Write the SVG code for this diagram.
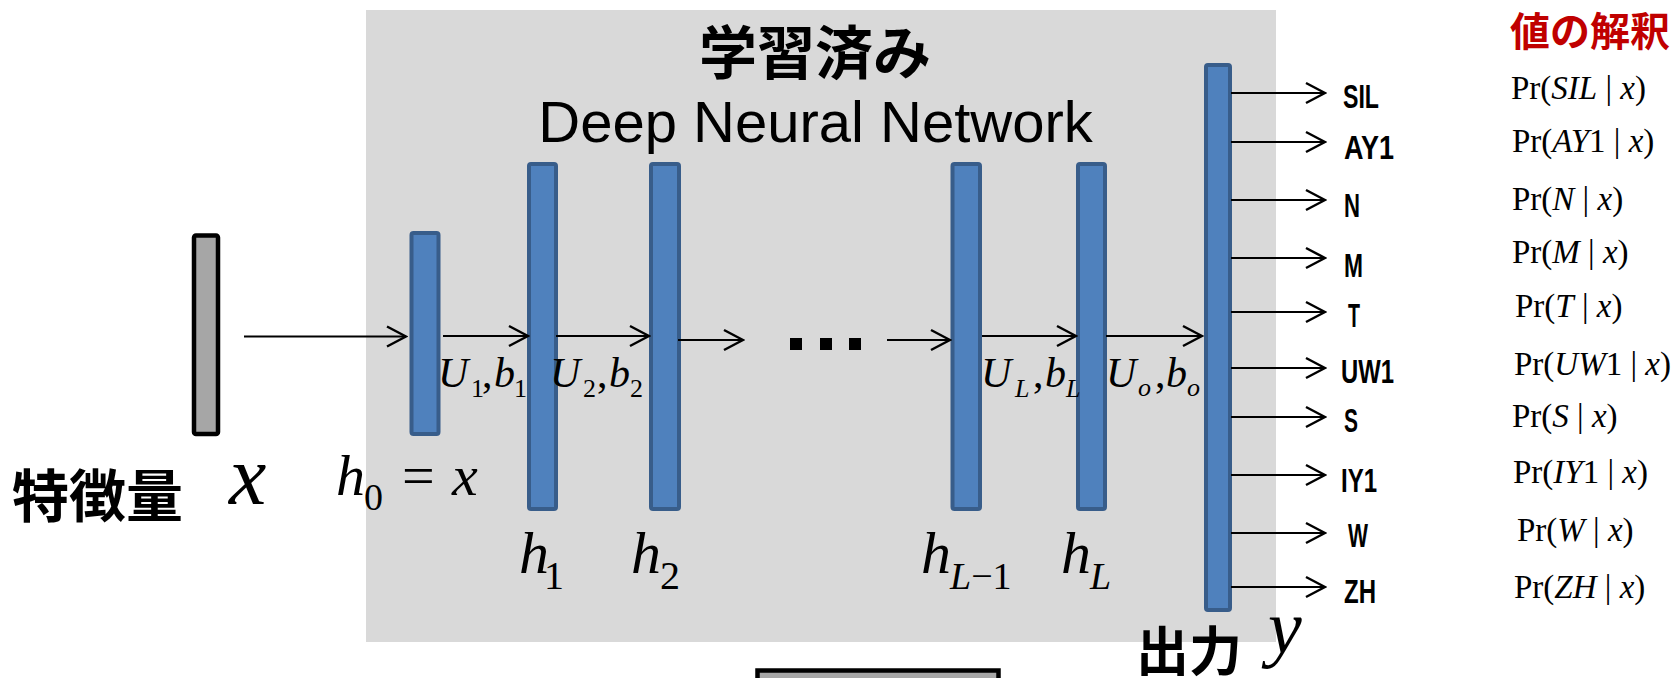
<svg xmlns="http://www.w3.org/2000/svg" width="1673" height="678" viewBox="0 0 1673 678">
  <defs>
    <style>
      .panel{fill:#d9d9d9}
      .layer{fill:#4f81bd;stroke:#385d8a;stroke-width:4}
      .feat{fill:#a6a6a6;stroke:#000;stroke-width:4.5}
      .conn line{stroke:#000;stroke-width:2.2;fill:none;marker-end:url(#arr)}
      .jp{font-family:"Noto Sans CJK JP","Noto Sans CJK SC",sans-serif;font-weight:bold}
      .math{font-family:"Liberation Serif","Times New Roman",serif;fill:#000}
      .it{font-style:italic}
      .pr{font-family:"Liberation Serif","Times New Roman",serif;font-size:33px}
      .cls{font-family:"Liberation Sans",Arial,sans-serif;font-size:33px;font-weight:bold}
    </style>
    <marker id="arr" markerUnits="userSpaceOnUse" markerWidth="24" markerHeight="24" viewBox="-22 -12 24 24" refX="0" refY="0" orient="auto">
      <path d="M-19,-10 L0,0 L-19,10" fill="none" stroke="#000" stroke-width="2.5"/>
    </marker>
  </defs>

  <!-- trained network panel -->
  <g id="panel">
    <rect class="panel" x="366" y="10" width="910" height="632"/>
    <text x="815" y="74" text-anchor="middle" class="jp" font-size="58">学習済み</text>
    <text x="815.5" y="142" text-anchor="middle" font-family="Liberation Sans, Arial, sans-serif" font-size="58">Deep Neural Network</text>
  </g>

  <!-- input feature vector -->
  <g id="input">
    <rect class="feat" x="194" y="235.5" width="24" height="198.5" rx="2"/>
    <text x="12" y="517" class="jp" font-size="57">特徴量</text>
    <text x="229" y="504" class="math it" font-size="84">x</text>
  </g>

  <g id="h0">
    <rect class="layer" x="411.5" y="233" width="27" height="201" rx="2"/>
    <text class="math" font-size="58" y="495"><tspan x="336" class="it">h</tspan><tspan x="364" y="510" font-size="38">0</tspan><tspan x="402" y="495">=</tspan><tspan x="452" class="it">x</tspan></text>
  </g>

  <g id="h1">
    <rect class="layer" x="529" y="164" width="27" height="345" rx="2"/>
    <text class="math" font-size="60" y="573"><tspan x="519" class="it">h</tspan><tspan x="544" y="589" font-size="40">1</tspan></text>
  </g>

  <g id="h2">
    <rect class="layer" x="651" y="164" width="28" height="345" rx="2"/>
    <text class="math" font-size="60" y="573"><tspan x="631" class="it">h</tspan><tspan x="660" y="589" font-size="40">2</tspan></text>
  </g>

  <!-- ellipsis between hidden layers -->
  <g id="ellipsis">
    <rect x="790" y="338" width="12" height="12"/>
    <rect x="820" y="338" width="12" height="12"/>
    <rect x="849" y="338" width="12" height="12"/>
  </g>

  <g id="hLm1">
    <rect class="layer" x="952.5" y="164" width="27.5" height="345" rx="2"/>
    <text class="math" font-size="60" y="573"><tspan x="921" class="it">h</tspan><tspan x="950" y="589" font-size="38" class="it">L</tspan><tspan y="589" font-size="38">−1</tspan></text>
  </g>

  <g id="hL">
    <rect class="layer" x="1078" y="164" width="27" height="345" rx="2"/>
    <text class="math" font-size="60" y="573"><tspan x="1061" class="it">h</tspan><tspan x="1090" y="589" font-size="38" class="it">L</tspan></text>
  </g>

  <!-- output layer -->
  <g id="output">
    <rect class="layer" x="1206" y="65" width="24" height="545" rx="2"/>
    <text x="1136" y="671" class="jp" font-size="53">出力</text>
    <text x="1268" y="653" class="math it" font-size="76">y</text>
  </g>

  <!-- weight / bias labels -->
  <g id="weights" class="math">
    <text y="387" font-size="42"><tspan x="438" class="it">U</tspan><tspan x="471" y="397" font-size="26">1</tspan><tspan x="482" y="387">,</tspan><tspan x="494" class="it">b</tspan><tspan x="514" y="397" font-size="26">1</tspan></text>
    <text y="387" font-size="42"><tspan x="550" class="it">U</tspan><tspan x="583" y="397" font-size="26">2</tspan><tspan x="597" y="387">,</tspan><tspan x="609" class="it">b</tspan><tspan x="630" y="397" font-size="26">2</tspan></text>
    <text y="387" font-size="42"><tspan x="981" class="it">U</tspan><tspan x="1015" y="397" font-size="26" class="it">L</tspan><tspan x="1033" y="387">,</tspan><tspan x="1045" class="it">b</tspan><tspan x="1066" y="397" font-size="26" class="it">L</tspan></text>
    <text y="387" font-size="42"><tspan x="1106" class="it">U</tspan><tspan x="1138" y="396" font-size="26" class="it">o</tspan><tspan x="1155" y="387">,</tspan><tspan x="1166" class="it">b</tspan><tspan x="1187" y="396" font-size="26" class="it">o</tspan></text>
  </g>

  <!-- output class names -->
  <g id="classes" class="cls">
    <text x="1343" y="108" textLength="36" lengthAdjust="spacingAndGlyphs">SIL</text>
    <text x="1344" y="159" textLength="50" lengthAdjust="spacingAndGlyphs">AY1</text>
    <text x="1344" y="217" textLength="16" lengthAdjust="spacingAndGlyphs">N</text>
    <text x="1344" y="277" textLength="19" lengthAdjust="spacingAndGlyphs">M</text>
    <text x="1348" y="327" textLength="12" lengthAdjust="spacingAndGlyphs">T</text>
    <text x="1341" y="383" textLength="53" lengthAdjust="spacingAndGlyphs">UW1</text>
    <text x="1344" y="432" textLength="14" lengthAdjust="spacingAndGlyphs">S</text>
    <text x="1341" y="492" textLength="36" lengthAdjust="spacingAndGlyphs">IY1</text>
    <text x="1348" y="547" textLength="20" lengthAdjust="spacingAndGlyphs">W</text>
    <text x="1344" y="603" textLength="32" lengthAdjust="spacingAndGlyphs">ZH</text>
  </g>

  <!-- interpretation of the output values -->
  <g id="interpretation">
    <text x="1510" y="46" class="jp" font-size="40" fill="#c00000">値の解釈</text>
    <g class="pr">
      <text x="1511" y="99">Pr(<tspan class="it">SIL</tspan> | <tspan class="it">x</tspan>)</text>
      <text x="1512" y="152">Pr(<tspan class="it">AY</tspan>1 | <tspan class="it">x</tspan>)</text>
      <text x="1512" y="210">Pr(<tspan class="it">N</tspan> | <tspan class="it">x</tspan>)</text>
      <text x="1512" y="263">Pr(<tspan class="it">M</tspan> | <tspan class="it">x</tspan>)</text>
      <text x="1515" y="317">Pr(<tspan class="it">T</tspan> | <tspan class="it">x</tspan>)</text>
      <text x="1514" y="375">Pr(<tspan class="it">UW</tspan>1 | <tspan class="it">x</tspan>)</text>
      <text x="1512" y="427">Pr(<tspan class="it">S</tspan> | <tspan class="it">x</tspan>)</text>
      <text x="1513" y="483">Pr(<tspan class="it">IY</tspan>1 | <tspan class="it">x</tspan>)</text>
      <text x="1517" y="541">Pr(<tspan class="it">W</tspan> | <tspan class="it">x</tspan>)</text>
      <text x="1514" y="598">Pr(<tspan class="it">ZH</tspan> | <tspan class="it">x</tspan>)</text>
    </g>
  </g>

  <!-- next feature frame, partly visible at the bottom -->
  <g id="nextFrame">
    <rect class="feat" x="757.5" y="670.5" width="241" height="30" stroke-width="5"/>
  </g>

  <!-- connectors -->
  <g id="connectors" class="conn">
    <line x1="244" y1="336.5" x2="406" y2="336.5"/>
    <line x1="443" y1="336" x2="528" y2="336"/>
    <line x1="556" y1="336" x2="649" y2="336"/>
    <line x1="678" y1="340" x2="743" y2="340"/>
    <line x1="887" y1="340" x2="950" y2="340"/>
    <line x1="982" y1="336" x2="1076" y2="336"/>
    <line x1="1106" y1="336" x2="1202" y2="336"/>
    <line x1="1231" y1="93" x2="1325" y2="93"/>
    <line x1="1231" y1="142" x2="1325" y2="142"/>
    <line x1="1231" y1="200" x2="1325" y2="200"/>
    <line x1="1231" y1="258" x2="1325" y2="258"/>
    <line x1="1231" y1="312" x2="1325" y2="312"/>
    <line x1="1231" y1="368" x2="1325" y2="368"/>
    <line x1="1231" y1="417" x2="1325" y2="417"/>
    <line x1="1231" y1="475" x2="1325" y2="475"/>
    <line x1="1231" y1="533" x2="1325" y2="533"/>
    <line x1="1231" y1="587" x2="1325" y2="587"/>
  </g>
</svg>
